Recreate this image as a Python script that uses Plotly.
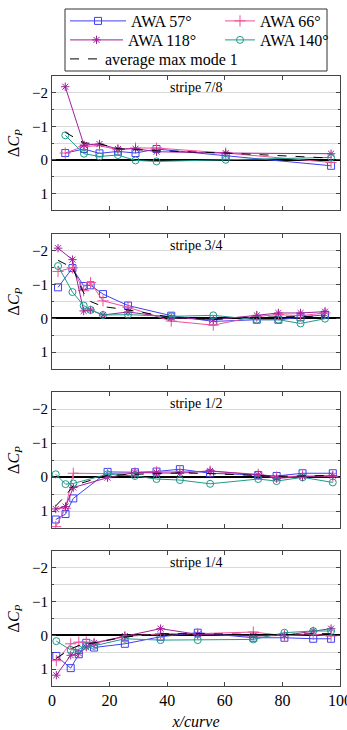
import plotly.graph_objects as go

# ---------------- data ----------------
stripes = ["stripe 7/8", "stripe 3/4", "stripe 1/2", "stripe 1/4"]

x_78 = [4.6, 11.1, 16.5, 22.9, 29.0, 36.3, 60.3, 96.9]
awa57_78 = [-0.20, -0.32, -0.19, -0.25, -0.20, -0.32, -0.12, 0.18]
awa66_78 = [-0.20, -0.40, -0.42, -0.30, -0.35, -0.35, -0.20, 0.08]
awa118_78 = [-2.18, -0.44, -0.47, -0.32, -0.33, -0.24, -0.20, -0.18]
awa140_78 = [-0.73, -0.18, -0.10, -0.14, 0.02, 0.05, 0.00, -0.07]
avg_78 = [-0.82, -0.50, -0.48, -0.33, -0.30, -0.27, -0.20, -0.05]

x_34 = [2.1, 7.1, 11.0, 13.4, 17.7, 26.4, 41.4, 56.0, 71.1, 78.6, 86.3, 94.8]
awa57_34 = [-0.92, -1.49, -0.96, -0.98, -0.72, -0.38, -0.08, 0.09, 0.04, 0.04, -0.03, -0.11]
awa66_34 = [-1.39, -1.50, -0.82, -1.06, -0.52, -0.33, 0.08, 0.20, -0.06, -0.11, -0.08, -0.16]
awa118_34 = [-2.08, -1.74, -0.22, -0.25, -0.10, -0.19, -0.02, 0.04, -0.09, -0.16, -0.16, -0.20]
awa140_34 = [-1.55, -0.78, -0.38, -0.25, -0.10, -0.11, -0.06, -0.09, 0.04, 0.04, 0.15, 0.01]
avg_34 = [-1.72, -1.50, -0.75, -0.50, -0.35, -0.25, -0.03, 0.03, -0.03, -0.04, -0.05, -0.07]

x_12 = [1.3, 4.7, 7.4, 19.3, 28.8, 36.3, 44.4, 54.9, 71.6, 78.0, 87.0, 97.5]
awa57_12 = [1.25, 1.09, 0.63, -0.15, -0.14, -0.16, -0.23, -0.11, -0.06, -0.03, -0.11, -0.11]
awa66_12 = [1.46, 0.92, -0.11, -0.10, -0.12, -0.15, -0.15, -0.17, -0.08, 0.00, -0.03, -0.02]
awa118_12 = [0.94, 0.87, 0.31, 0.02, -0.13, -0.13, -0.11, -0.18, -0.06, 0.04, -0.01, -0.04]
awa140_12 = [-0.08, 0.21, 0.19, -0.08, -0.03, 0.06, 0.09, 0.20, 0.06, 0.12, 0.01, 0.16]
avg_12 = [0.85, 0.55, 0.25, -0.05, -0.08, -0.10, -0.12, -0.10, -0.05, -0.02, -0.03, -0.05]

x_14 = [1.5, 6.5, 9.3, 11.9, 14.6, 25.3, 37.7, 50.6, 69.9, 80.7, 90.7, 96.9]
awa57_14 = [0.61, 0.97, 0.56, 0.22, 0.36, 0.25, 0.04, -0.08, 0.07, 0.07, 0.10, 0.10]
awa66_14 = [0.75, 0.25, 0.20, 0.20, 0.24, 0.04, -0.05, -0.05, -0.10, 0.01, -0.03, 0.02]
awa118_14 = [1.18, 0.59, 0.53, 0.35, 0.22, 0.02, -0.20, -0.03, 0.02, 0.00, -0.13, -0.20]
awa140_14 = [0.17, 0.43, 0.41, 0.31, 0.31, 0.10, 0.14, 0.14, 0.12, -0.08, -0.13, -0.13]
avg_14 = [0.68, 0.40, 0.30, 0.25, 0.22, 0.05, -0.05, -0.05, -0.02, -0.02, -0.05, -0.05]

x_ticks = [0, 20, 40, 60, 80, 100]
y_ticks = [-2, -1, 0, 1]
y_tick_labels = ["\u22122", "\u22121", "0", "1"]

panels = [
    (x_78, awa57_78, awa66_78, awa118_78, awa140_78, avg_78),
    (x_34, awa57_34, awa66_34, awa118_34, awa140_34, avg_34),
    (x_12, awa57_12, awa66_12, awa118_12, awa140_12, avg_12),
    (x_14, awa57_14, awa66_14, awa118_14, awa140_14, avg_14),
]

series_names = ["AWA 57°", "AWA 66°", "AWA 118°", "AWA 140°", "average max mode 1"]
colors = ["#4040f0", "#f0509a", "#a0209a", "#1f9a8a", "#000000"]
symbols = ["square-open", "cross-thin-open", "asterisk-open", "circle-open", None]
legend_ids = ["legend", "legend2", "legend3", "legend4", "legend5"]

# ---------------- layout geometry ----------------
W, H = 347, 730
mt, mb, ml, mr = 76, 44, 52, 7
plot_w = W - ml - mr
plot_h = H - mt - mb
panel_px = [(76, 210), (234, 369), (392, 528), (551, 686)]
domains = [((H - mb - b) / plot_h, (H - mb - t) / plot_h) for (t, b) in panel_px]


def px_x(px):
    return (px - ml) / plot_w


def px_y(py):
    return (H - mb - py) / plot_h


FONT = "Liberation Serif"

fig = go.Figure()
for p, data in enumerate(panels):
    xs = data[0]
    ax = "" if p == 0 else str(p + 1)
    for s in range(5):
        ys = data[s + 1]
        if s < 4:
            fig.add_trace(go.Scatter(
                x=xs, y=ys, mode="lines+markers", name=series_names[s],
                line=dict(color=colors[s], width=1),
                marker=dict(symbol=symbols[s], size=7 if s != 1 else 8,
                            color=colors[s], line=dict(color=colors[s], width=1)),
                showlegend=(p == 0), legend=legend_ids[s],
                xaxis="x" + ax, yaxis="y" + ax))
        else:
            fig.add_trace(go.Scatter(
                x=xs, y=ys, mode="lines", name=series_names[s],
                line=dict(color="black", width=1, dash="dash"),
                showlegend=(p == 0), legend=legend_ids[s],
                xaxis="x" + ax, yaxis="y" + ax))

# legend entries: (left px, row centre px, itemwidth)
leg_pos = [(65, 21, 56), (220, 21, 30), (65, 40, 53), (220, 40, 28), (65, 59, 30)]

layout = dict(
    width=W, height=H,
    margin=dict(l=ml, r=mr, t=mt, b=mb, autoexpand=False),
    paper_bgcolor="white", plot_bgcolor="white",
    font=dict(family=FONT, size=14, color="black"),
    annotations=[],
    shapes=[dict(type="rect", xref="paper", yref="paper",
                 x0=px_x(65), x1=px_x(327), y0=px_y(71), y1=px_y(9),
                 line=dict(color="#333", width=1), fillcolor="white",
                 layer="above")],
)

for i, (lx, ly, iw) in enumerate(leg_pos):
    layout[legend_ids[i]] = dict(
        x=px_x(lx), y=px_y(ly), xanchor="left", yanchor="middle",
        orientation="h", bgcolor="rgba(0,0,0,0)", borderwidth=0,
        itemwidth=max(iw, 30), font=dict(family=FONT, size=16))

for p in range(4):
    ax = "" if p == 0 else str(p + 1)
    layout["xaxis" + ax] = dict(
        domain=[0, 1], range=[0, 100], anchor="y" + ax,
        tickvals=x_ticks, ticks="inside", ticklen=4, tickcolor="#444",
        showticklabels=(p == 3), showgrid=False, zeroline=False,
        showline=True, linecolor="#444", linewidth=1, mirror="ticks",
        tickfont=dict(family=FONT, size=16), ticklabeloverflow="allow",
        automargin=False,
        matches=None if p == 0 else "x",
        title=dict(text="<i>x/curve</i>", font=dict(family=FONT, size=16),
                   standoff=13) if p == 3 else None,
    )
    layout["yaxis" + ax] = dict(
        domain=list(domains[p]), range=[1.5, -2.5], anchor="x" + ax,
        tickvals=y_ticks, ticktext=y_tick_labels,
        ticks="inside", ticklen=4, tickcolor="#444",
        showgrid=True, gridcolor="#d9d9d9", gridwidth=1,
        minor=dict(dtick=0.5, tick0=0, showgrid=True, gridcolor="#d9d9d9",
                   ticks="inside", ticklen=2, tickcolor="#444"),
        zeroline=True, zerolinecolor="black", zerolinewidth=1.6,
        showline=True, linecolor="#444", linewidth=1, mirror="ticks",
        tickfont=dict(family=FONT, size=15), automargin=False,
        title=dict(text="\u0394<i>C</i><sub><i>P</i></sub>",
                   font=dict(family=FONT, size=16), standoff=8),
    )
    layout["annotations"].append(dict(
        text=stripes[p], xref="x" + ax + " domain", yref="y" + ax + " domain",
        x=0.5, y=0.985, xanchor="center", yanchor="top", showarrow=False,
        font=dict(family=FONT, size=14)))

fig.update_layout(**layout)
fig.write_html("out.html")
